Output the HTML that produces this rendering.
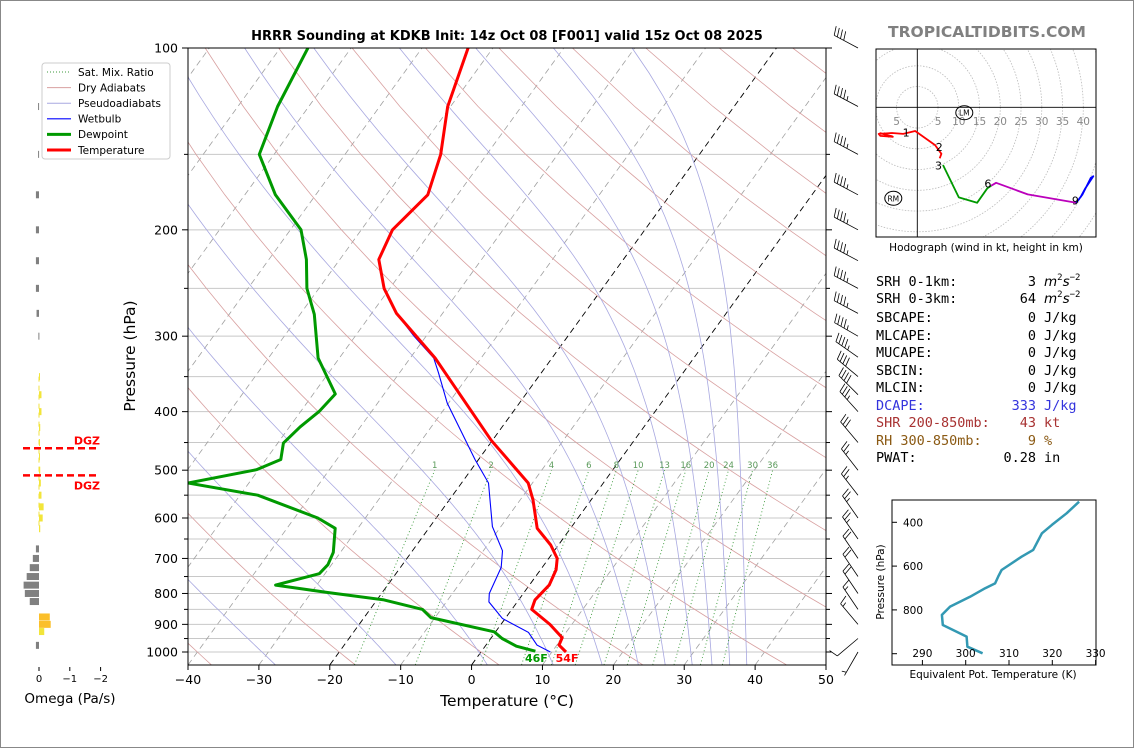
<!DOCTYPE html>
<html><head><meta charset="utf-8">
<style>
html,body{margin:0;padding:0;background:#fff;}
svg{display:block;font-family:"DejaVu Sans","Liberation Sans",sans-serif;}
</style></head>
<body>
<svg id="root" width="1134" height="748" viewBox="0 0 1134 748" xmlns="http://www.w3.org/2000/svg">
<rect x="0.5" y="0.5" width="1133" height="747" fill="#fff" stroke="#888"/>
<defs>
<clipPath id="mainclip"><rect x="188" y="48" width="638" height="617"/></clipPath>
<clipPath id="hodoclip"><rect x="876" y="49" width="220" height="188"/></clipPath>
<clipPath id="theclip"><rect x="892" y="500" width="204" height="165"/></clipPath>
</defs>
<text x="507" y="40" text-anchor="middle" font-size="13" font-weight="bold">HRRR Sounding at KDKB Init: 14z Oct 08 [F001] valid 15z Oct 08 2025</text>
<text x="987" y="37" text-anchor="middle" font-size="15.5" font-weight="bold" fill="#808080">TROPICALTIDBITS.COM</text>
<g id="bg" clip-path="url(#mainclip)"></g>
<g id="prof" clip-path="url(#mainclip)"></g>
<g id="axes"></g>
<g id="barbs"></g>
<g id="omega"></g>
<g id="hodo"></g>
<g id="thetae"></g>
<g id="stats" font-family="'DejaVu Sans Mono','Liberation Mono',monospace" font-size="13.5"></g>
<g id="legend"></g>
</svg>
<script>
// ---------- DATA ----------
const tempP = [100,125,150,175,200,224,250,275,326,446,525,560,624,665,700,731,775,820,850,900,947,974,1000];
const tempT = [-63.5,-60.4,-56.5,-54.2,-55.6,-54.5,-50.8,-46.5,-36.5,-20.2,-10.6,-8.2,-4.7,-1.1,1.2,2.2,2.8,2.3,2.8,6.9,10.0,10.3,12.0];
const dewP = [100,125,150,175,200,224,250,276,300,326,374,400,424,451,480,499,525,550,600,624,684,717,742,775,797,820,850,877,926,950,978,997];
const dewT = [-86.1,-84.4,-82.1,-75.7,-68.5,-64.7,-61.7,-58,-55.5,-53,-46.9,-47.4,-48.5,-49.2,-47.9,-50.3,-58.6,-47.5,-36.7,-33.2,-31,-30.5,-30.8,-35.8,-27.7,-19,-12.6,-10.6,-0.2,1.6,4.4,7.6];
const wbP = [100,125,150,175,200,224,250,275,300,326,345,387,480,525,620,680,724,800,826,880,928,974,1000];
const wbT = [-63.5,-60.4,-56.5,-54.2,-55.6,-54.5,-50.8,-46.5,-41.7,-36.7,-34.5,-30.2,-20.5,-16.2,-11.2,-7.3,-5.8,-4.8,-4.0,-0.4,4.7,7.2,9.8];
const isotherms = [-120,-110,-100,-90,-80,-70,-60,-50,-40,-30,-20,-10,0,10,20,30,40,50];
const dryThetaC = [-60,-40,-20,0,20,40,60,80,100,120,140,160,180,200,220,240];
const moistStartT = [-80,-62,-45,-27.7,-10.7,2.2,11.5,18.4,23.5,27.3,31.1,33.9,36.4,38.8];
const mixRatios = [1,2,4,6,8,10,13,16,20,24,30,36];
const gridP = [100,150,200,250,300,350,400,450,500,550,600,650,700,750,800,850,900,950,1000];
const pLabels = [100,200,300,400,500,600,700,800,900,1000];
const tTicks = [-40,-30,-20,-10,0,10,20,30,40,50];
const omegaP = [125,150,175,200,225,250,275,300,350,375,400,425,450,475,500,525,550,575,600,625,675,700,725,750,775,800,825,875,900,925,975];
const omegaV = [0.03,0.03,0.1,0.1,0.1,0.1,0.08,0.02,-0.02,-0.08,-0.08,-0.04,-0.03,-0.03,-0.04,-0.06,-0.08,-0.15,-0.12,-0.04,0.1,0.2,0.3,0.4,0.5,0.46,0.3,-0.35,-0.38,-0.17,0.1];
const dgzP = [460,510];
const barbP = [100,125,150,175,200,225,250,275,300,325,350,375,400,450,500,550,600,650,700,750,800,850,900,950,1000];
const barbSpd = [40,45,45,45,45,45,45,45,45,45,40,40,35,30,25,25,25,25,20,20,20,15,15,10,5];
const barbDir = [298,298,298,298,298,298,298,298,300,305,310,315,318,320,322,322,325,325,326,326,326,326,320,230,210];
const hodoSegs = [
 {c:'#ff0000', u:[-9.1,-6.1,-5.9,-8.9,-9.3,-6.1,-3.4,-0.5,4.3,5.8,5.4], v:[-6.2,-7.0,-7.1,-6.9,-6.4,-6.2,-6.4,-5.7,-9.1,-11.2,-12.3]},
 {c:'#009900', u:[6.2,10.0,14.4,16.9,17.8], v:[-13.9,-21.7,-23.0,-19.5,-18.9]},
 {c:'#bb00bb', u:[17.8,19.0,26.6,38.3], v:[-18.9,-18.2,-21.0,-23.0]},
 {c:'#0000ff', u:[38.3,39.8,41.8,42.4,40.5,39.3], v:[-23.0,-21.0,-17.0,-16.6,-19.5,-21.7]}
];
const hodoLabels = ['1','2','3','6','9'];
const hodoLabU = [-2.7,5.3,5.1,17.0,38.1];
const hodoLabV = [-6.1,-9.6,-14.0,-18.4,-22.4];
const ringKts = [5,10,15,20,25,30,35,40,45,50,55,60];
const theP = [306,359,412,450,526,557,618,648,679,701,740,785,823,869,922,968,998];
const theK = [326.2,323.3,319.9,317.6,315.6,312.9,308.3,307.5,306.8,304.5,301.0,296.4,294.5,294.7,300.2,300.4,303.9];
const theXTicks = [290,300,310,320,330];
const theYTicks = [400,600,800,1000];

// ---------- HELPERS ----------
const NS='http://www.w3.org/2000/svg';
function mk(parent, tag, attrs){const e=document.createElementNS(NS,tag);for(const k in attrs)e.setAttribute(k,attrs[k]);parent.appendChild(e);return e;}
const yP = p => 48 + 604*Math.log10(p/100);
const xT = (T,p) => 188 + (T+40)*7.089 + (665 - yP(p))*0.724;
const es = T => 6.112*Math.exp(17.67*T/(T+243.5));
function pathFrom(ps, ts){let d='';for(let i=0;i<ps.length;i++){d+=(i?'L':'M')+xT(ts[i],ps[i]).toFixed(1)+','+yP(ps[i]).toFixed(1);}return d;}
const bg=document.getElementById('bg'), prof=document.getElementById('prof'), axes=document.getElementById('axes');

// ---------- GRID / BACKGROUND ----------
gridP.forEach(p=>{
  const l=mk(bg,'line',{x1:188,x2:826,y1:yP(p),y2:yP(p),stroke:'#c8c8c8','stroke-width':1});
  
  
});
isotherms.forEach(T=>{
  const blk=(T===0||T===-20);
  const l=mk(bg,'line',{x1:xT(T,1050),y1:yP(1050),x2:xT(T,100),y2:yP(100),stroke:blk?'#000':'#a0a0a0','stroke-width':blk?0.9:0.8,'stroke-dasharray':'6,4'});
  
  
});
dryThetaC.forEach(th=>{
  let d='';
  for(let p=1050;p>=100;p-=25){const T=(th+273.15)*Math.pow(p/1000,0.2857)-273.15;d+=(p===1050?'M':'L')+xT(T,p).toFixed(1)+','+yP(p).toFixed(1);}
  const l=mk(bg,'path',{d:d,fill:'none',stroke:'#d8a0a0','stroke-width':0.8});
  
  
});
moistStartT.forEach(T0=>{
  let T=T0,p=1050,d='M'+xT(T,p).toFixed(1)+','+yP(p).toFixed(1);
  const dp=-2;
  while(p>100){
    const TK=T+273.15,e=es(T),rs=0.622*e/(p-e),L=2.5e6,Rd=287,cp=1005;
    const dTdp=(Rd*TK+L*rs)/(p*(cp+L*L*rs*0.622/(Rd*TK*TK)));
    T+=dTdp*dp;p+=dp;
    if(Math.round(p)%10===0)d+='L'+xT(T,p).toFixed(1)+','+yP(p).toFixed(1);
  }
  const l=mk(bg,'path',{d:d,fill:'none',stroke:'#a8a8e0','stroke-width':0.8});
  
  
});
mixRatios.forEach(w=>{
  const td=p=>{const e=w*p/(622+w);const a=Math.log(e/6.112);return 243.5*a/(17.67-a);};
  const l=mk(bg,'line',{x1:xT(td(1050),1050),y1:yP(1050),x2:xT(td(500),500),y2:yP(500),stroke:'#3c9a3c','stroke-width':0.9,'stroke-dasharray':'1,2.5'});
  
  
  const t=mk(bg,'text',{x:xT(td(500),500),y:468,'text-anchor':'middle','font-size':8.5,fill:'#5a9a5a'});
  t.textContent=w;
  
  
});

// ---------- PROFILES ----------
{
const wb=mk(prof,'path',{d:pathFrom(wbP,wbT),fill:'none',stroke:'#0000ff','stroke-width':1.1});


const dw=mk(prof,'path',{d:pathFrom(dewP,dewT),fill:'none',stroke:'#009900','stroke-width':3,'stroke-linejoin':'round'});


const tp=mk(prof,'path',{d:pathFrom(tempP,tempT),fill:'none',stroke:'#ff0000','stroke-width':3,'stroke-linejoin':'round'});


const sd=mk(prof,'text',{x:xT(dewT[dewT.length-1],dewP[dewP.length-1])+1,y:662,'text-anchor':'middle','font-size':11,'font-weight':'bold',fill:'#009900'});
sd.textContent=Math.round(dewT[dewT.length-1]*9/5+32)+'F';


const st=mk(prof,'text',{x:xT(tempT[tempT.length-1],tempP[tempP.length-1])+1,y:662,'text-anchor':'middle','font-size':11,'font-weight':'bold',fill:'#ff0000'});
st.textContent=Math.round(tempT[tempT.length-1]*9/5+32)+'F';


}

// ---------- AXES ----------
{
const fr=mk(axes,'rect',{x:188,y:48,width:638,height:617,fill:'none',stroke:'#000','stroke-width':1});


gridP.forEach(p=>{
  const major=pLabels.includes(p);
  const tl=mk(axes,'line',{x1:major?182:184,x2:188,y1:yP(p),y2:yP(p),stroke:'#000'});
  
  
  const tr=mk(axes,'line',{x1:826,x2:major?832:830,y1:yP(p),y2:yP(p),stroke:'#000'});
  
  
});
pLabels.forEach(p=>{
  const t=mk(axes,'text',{x:178,y:yP(p)+4.5,'text-anchor':'end','font-size':12.5});
  t.textContent=p;
  
  
});
tTicks.forEach(T=>{
  const x=188+(T+40)*7.089;
  const tl=mk(axes,'line',{x1:x,x2:x,y1:665,y2:670,stroke:'#000'});
  
  
  const t=mk(axes,'text',{x:x,y:684,'text-anchor':'middle','font-size':12.5});
  t.textContent=(T<0?'\u2212'+(-T):T);
  
  
});
const xl=mk(axes,'text',{x:507,y:706,'text-anchor':'middle','font-size':15.5});
xl.textContent='Temperature (\u00B0C)';


const yl=mk(axes,'text',{x:0,y:0,'text-anchor':'middle','font-size':15.5,transform:'translate(135,356) rotate(-90)'});
yl.textContent='Pressure (hPa)';


}

// ---------- WIND BARBS ----------
{
const g=document.getElementById('barbs');
barbP.forEach((p,i)=>{
  const sx=858, sy=yP(p), dir=barbDir[i]*Math.PI/180;
  const ux=Math.sin(dir), uy=-Math.cos(dir);
  const L=27, ex=sx+ux*L, ey=sy+uy*L;
  let d='M'+sx+','+sy.toFixed(1)+'L'+ex.toFixed(1)+','+ey.toFixed(1);
  const px=-uy, py=ux;
  let spd=barbSpd[i], k=0;
  const full=Math.floor(spd/10), half=(spd%10)>=5;
  for(let j=0;j<full;j++){
    const bx=ex-ux*k*3.6, by=ey-uy*k*3.6;
    d+='M'+bx.toFixed(1)+','+by.toFixed(1)+'l'+(px*9+ux*2.5).toFixed(1)+','+(py*9+uy*2.5).toFixed(1);k++;
  }
  if(half){
    if(full===0)k=1;
    const bx=ex-ux*k*3.6, by=ey-uy*k*3.6;
    d+='M'+bx.toFixed(1)+','+by.toFixed(1)+'l'+(px*4.5+ux*1.2).toFixed(1)+','+(py*4.5+uy*1.2).toFixed(1);
  }
  const b=mk(g,'path',{d:d,fill:'none',stroke:'#000','stroke-width':0.8});
  
  
});
}

// ---------- OMEGA ----------
{
const g=document.getElementById('omega');
const ox=v=>39-v*30.8;
const zl=mk(g,'line',{x1:39,x2:39,y1:yP(350),y2:yP(625),stroke:'#f0e040','stroke-width':1,'stroke-dasharray':'5,4'});


omegaP.forEach((p,i)=>{
  const v=omegaV[i], x1=ox(v), y=yP(p);
  const col=v>0?'#808080':(v<-0.3?'#fbbf2a':'#f2e53a');
  const r=mk(g,'rect',{x:Math.min(x1,39),y:y-3.5,width:Math.max(Math.abs(x1-39),1),height:7,fill:col});
  
  
});
dgzP.forEach((p,i)=>{
  const y=yP(p);
  const l=mk(g,'line',{x1:23,x2:100,y1:y,y2:y,stroke:'#ff0000','stroke-width':2.5,'stroke-dasharray':'7,4'});
  
  
  const t=mk(g,'text',{x:100,y:i===0?y-4:y+14,'text-anchor':'end','font-size':11,'font-weight':'bold',fill:'#ff0000'});
  t.textContent='DGZ';
  
  
});
[0,-1,-2].forEach(v=>{
  const tk=mk(g,'line',{x1:ox(v),x2:ox(v),y1:667,y2:671,stroke:'#000'});
  
  
  const t=mk(g,'text',{x:ox(v),y:682,'text-anchor':'middle','font-size':10});
  t.textContent=v===0?'0':'\u2212'+(-v);
  
  
});
const ot=mk(g,'text',{x:70,y:703,'text-anchor':'middle','font-size':13.5});
ot.textContent='Omega (Pa/s)';


}

// ---------- HODOGRAPH ----------
{
const g=document.getElementById('hodo');
const cx=917.3, cy=107.3, k=4.15;
const hx=u=>cx+u*k, hy=v=>cy-v*k;
const inner=mk(g,'g',{'clip-path':'url(#hodoclip)'});


ringKts.forEach(r=>{
  const c=mk(inner,'circle',{cx:cx,cy:cy,r:r*k,fill:'none',stroke:'#bbb','stroke-width':0.8,'stroke-dasharray':'1.5,1.5'});
  
  
});
const ax1=mk(inner,'line',{x1:876,x2:1096,y1:cy,y2:cy,stroke:'#000','stroke-width':0.9});


const ax2=mk(inner,'line',{x1:cx,x2:cx,y1:49,y2:237,stroke:'#000','stroke-width':0.9});


[-5,5,10,15,20,25,30,35,40].forEach(r=>{
  const t=mk(inner,'text',{x:cx+r*k,y:125,'text-anchor':'middle','font-size':10.5,fill:'#888'});
  t.textContent=Math.abs(r);
  
  
});
hodoSegs.forEach(s=>{
  let d='';s.u.forEach((u,i)=>{d+=(i?'L':'M')+hx(u).toFixed(1)+','+hy(s.v[i]).toFixed(1);});
  const p=mk(inner,'path',{d:d,fill:'none',stroke:s.c,'stroke-width':1.8,'stroke-linejoin':'round'});
  
  
});
hodoLabels.forEach((l,i)=>{
  const t=mk(inner,'text',{x:hx(hodoLabU[i]),y:hy(hodoLabV[i])+4,'text-anchor':'middle','font-size':11});
  t.textContent=l;
  
  
});
[['LM',964.3,112.7],['RM',893.3,198.3]].forEach(m=>{
  const e=mk(inner,'ellipse',{cx:m[1],cy:m[2],rx:8.5,ry:7,fill:'none',stroke:'#000','stroke-width':1});
  
  
  const t=mk(inner,'text',{x:m[1],y:m[2]+3,'text-anchor':'middle','font-size':7.5});
  t.textContent=m[0];
  
  
});
const fr=mk(g,'rect',{x:876,y:49,width:220,height:188,fill:'none',stroke:'#000','stroke-width':1});


const cap=mk(g,'text',{x:986,y:251,'text-anchor':'middle','font-size':10.5});
cap.textContent='Hodograph (wind in kt, height in km)';


}

// ---------- THETA-E ----------
{
const g=document.getElementById('thetae');
const tx=t=>965.7+(t-300)*4.33, ty=p=>522.3+(p-400)*0.219;
let d='';theP.forEach((p,i)=>{d+=(i?'L':'M')+tx(theK[i]).toFixed(1)+','+ty(p).toFixed(1);});
const inner=mk(g,'g',{'clip-path':'url(#theclip)'});


const ln=mk(inner,'path',{d:d,fill:'none',stroke:'#3399b3','stroke-width':2.5,'stroke-linejoin':'round'});


const fr=mk(g,'rect',{x:892,y:500,width:204,height:165,fill:'none',stroke:'#000','stroke-width':1});


theXTicks.forEach(t=>{
  const tk=mk(g,'line',{x1:tx(t),x2:tx(t),y1:665,y2:660,stroke:'#000'});
  
  
  const l=mk(g,'text',{x:tx(t),y:657,'text-anchor':'middle','font-size':10.5});
  l.textContent=t;
  
  
});
theYTicks.forEach(p=>{
  const tk=mk(g,'line',{x1:892,x2:897,y1:ty(p),y2:ty(p),stroke:'#000'});
  
  
  if(p<1000){
    const l=mk(g,'text',{x:923,y:ty(p)+4,'text-anchor':'end','font-size':10.5});
    l.textContent=p;
    
    
  }
});
const xl=mk(g,'text',{x:993,y:678,'text-anchor':'middle','font-size':10.5});
xl.textContent='Equivalent Pot. Temperature (K)';


const yl=mk(g,'text',{x:0,y:0,'text-anchor':'middle','font-size':10.5,transform:'translate(884,582) rotate(-90)'});
yl.textContent='Pressure (hPa)';


}

// ---------- STATS ----------
{
const g=document.getElementById('stats');
const rows=[
 ['SRH 0-1km:','3','srh','#000',286],
 ['SRH 0-3km:','64','srh','#000',303],
 ['SBCAPE:','0','J/kg','#000',322],
 ['MLCAPE:','0','J/kg','#000',340],
 ['MUCAPE:','0','J/kg','#000',357],
 ['SBCIN:','0','J/kg','#000',375],
 ['MLCIN:','0','J/kg','#000',392],
 ['DCAPE:','333','J/kg','#3333dd',410],
 ['SHR 200-850mb:','43','kt','#a83232',427],
 ['RH 300-850mb:','9','%','#8b5a14',445],
 ['PWAT:','0.28','in','#000',462]
];
rows.forEach(r=>{
  const a=mk(g,'text',{x:876,y:r[4],fill:r[3]});a.textContent=r[0];
  
  
  const b=mk(g,'text',{x:1036,y:r[4],fill:r[3],'text-anchor':'end'});b.textContent=r[1];
  
  
  const c=mk(g,'text',{x:1044,y:r[4],fill:r[3]});
  
  
  if(r[2]==='srh'){
    c.innerHTML='<tspan font-style="italic" font-family="DejaVu Sans">m</tspan><tspan dy="-6" font-size="9">2</tspan><tspan dy="6" font-style="italic" font-family="DejaVu Sans">s</tspan><tspan dy="-6" font-size="9">\u22122</tspan>';
  } else c.textContent=r[2];
});
}

// ---------- LEGEND ----------
{
const g=document.getElementById('legend');
const box=mk(g,'rect',{x:42,y:63,width:128,height:96,rx:3,fill:'#fff',stroke:'#ccc','stroke-width':1});


const items=[['Sat. Mix. Ratio','#3c9a3c',1,'1,2'],['Dry Adiabats','#d8a0a0',1,''],['Pseudoadiabats','#a8a8e0',1,''],['Wetbulb','#0000ff',1.2,''],['Dewpoint','#009900',3,''],['Temperature','#ff0000',3,'']];
items.forEach((it,i)=>{
  const y=72+i*15.6;
  const l=mk(g,'line',{x1:47,x2:71,y1:y,y2:y,stroke:it[1],'stroke-width':it[2]});
  if(it[3])l.setAttribute('stroke-dasharray',it[3]);
  
  
  const t=mk(g,'text',{x:78,y:y+3.8,'font-size':10.5});
  t.textContent=it[0];
  
  
});
}
</script>
</body></html>
